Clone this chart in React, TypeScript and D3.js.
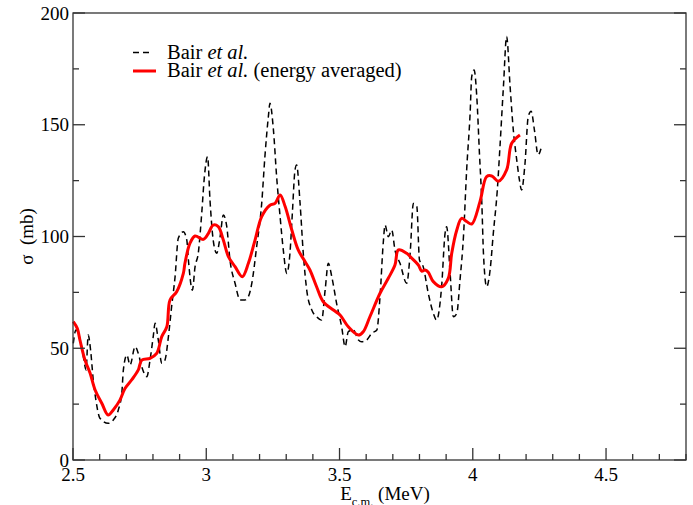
import React from "react";
import * as d3 from "d3";

const W = 693;
const H = 505;

// Bair et al. (raw)
const rawE = [2.501,2.511,2.524,2.539,2.549,2.557,2.566,2.576,2.586,2.601,2.632,2.651,2.670,2.683,2.689,2.702,2.714,2.733,2.745,2.758,2.777,2.789,2.801,2.808,2.820,2.833,2.845,2.858,2.870,2.883,2.895,2.914,2.927,2.933,2.948,2.958,2.970,2.983,2.993,3.005,3.014,3.026,3.039,3.052,3.064,3.077,3.089,3.108,3.127,3.145,3.158,3.171,3.189,3.208,3.220,3.233,3.239,3.252,3.264,3.277,3.289,3.302,3.314,3.323,3.333,3.339,3.352,3.364,3.377,3.396,3.414,3.433,3.446,3.458,3.471,3.489,3.508,3.521,3.533,3.552,3.571,3.583,3.602,3.621,3.640,3.652,3.664,3.671,3.683,3.696,3.708,3.727,3.752,3.765,3.777,3.790,3.800,3.814,3.833,3.852,3.864,3.883,3.896,3.902,3.915,3.927,3.940,3.952,3.965,3.977,3.990,3.996,4.005,4.015,4.025,4.034,4.040,4.052,4.065,4.077,4.092,4.102,4.115,4.127,4.140,4.152,4.165,4.175,4.183,4.196,4.208,4.219,4.232,4.245,4.258];
const rawSigma = [52.2,58.2,55.2,46.2,40.3,55.9,49.2,35.8,26.8,18.7,16.4,17.9,22.4,29.8,40.3,47,42.5,50.7,47.7,41.7,37.3,44.7,55.2,61.2,53.7,43.3,44.7,55.2,68.6,82,99.2,102.1,98.4,89.5,76,86.5,92.5,110.4,126.8,135.7,116.3,98.4,92.5,99.9,109.6,104.4,89.5,79.1,71.6,71.6,73.1,79.1,95.4,114.8,135.7,153.6,159.6,147.7,126.8,108.9,94,83.5,92.5,110.4,129.8,132,114.8,92.5,76,67.1,64.1,62.6,76,88,82,70.1,59.6,50.7,57.4,58.2,53.7,52.9,53.7,56.7,58.2,73.1,97,105.1,99.9,102.9,94,88,79.1,92.5,114.8,113.4,89.5,86.5,74.6,65.6,62.6,77.5,101.4,104.4,83.5,64.1,65.6,80.5,99.9,129.8,155.1,171.5,174.5,162.6,137.2,114.8,92.5,77.5,85,101.4,120.8,140.2,167.1,189.5,167.1,147.7,134.2,125.3,120.8,132.8,153.6,156,147,136.5,140.2];

// Bair et al. (energy averaged)
const avgE = [2.501,2.516,2.526,2.545,2.564,2.583,2.608,2.632,2.651,2.676,2.695,2.720,2.745,2.758,2.789,2.814,2.833,2.852,2.864,2.889,2.914,2.920,2.939,2.958,2.989,3.008,3.026,3.045,3.064,3.083,3.108,3.135,3.158,3.183,3.208,3.239,3.258,3.277,3.296,3.321,3.345,3.371,3.389,3.414,3.439,3.477,3.502,3.533,3.571,3.589,3.614,3.652,3.683,3.708,3.721,3.752,3.765,3.796,3.808,3.821,3.833,3.852,3.883,3.908,3.921,3.940,3.958,3.977,3.996,4.027,4.052,4.071,4.096,4.127,4.146,4.177];
const avgSigma = [61.9,58.9,53.7,44.7,38.9,31.3,25.4,20.1,22.4,26.8,32,35.8,40.3,44.7,45.5,47.7,55.2,59.6,71.6,75.3,83.5,88,97,100.2,98.7,101.4,105.1,104.4,98.4,91,86.5,82,88,98.4,108.9,114,114.8,118.6,113.4,102.9,94,88.7,85,77.5,70.8,67.1,64.9,59.6,55.9,57.4,64.1,74.6,81.3,87.2,94,92.5,91,87.2,84.5,85,84,79.8,77.5,81.3,92.5,102.9,108.1,106.7,105.6,115.6,126.8,127.1,124.7,129.8,141.7,145.4];

const xMajor = [2.5, 3, 3.5, 4, 4.5];
const xMajorLabels = ["2.5", "3", "3.5", "4", "4.5"];
const yMajor = [0, 50, 100, 150, 200];
const yMajorLabels = ["0", "50", "100", "150", "200"];

const left = 73;
const right = 686;
const top = 13;
const bottom = 460;

export default function App() {
  const x = d3.scaleLinear().domain([2.5, 4.8]).range([left, right]);
  const y = d3.scaleLinear().domain([0, 200]).range([bottom, top]);

  const rawPts: [number, number][] = rawE.map((e, i) => [e, rawSigma[i]]);
  const avgPts: [number, number][] = avgE.map((e, i) => [e, avgSigma[i]]);

  const lineRaw = d3
    .line<[number, number]>()
    .x((d) => x(d[0]))
    .y((d) => y(d[1]))
    .curve(d3.curveMonotoneX);
  const lineAvg = d3
    .line<[number, number]>()
    .x((d) => x(d[0]))
    .y((d) => y(d[1]))
    .curve(d3.curveCatmullRom.alpha(0.5));

  const xMinor = d3.range(2.5, 4.8001, 0.1).filter((v) => !xMajor.some((m) => Math.abs(m - v) < 1e-6));
  const yMinor = d3.range(0, 200.001, 25).filter((v) => !yMajor.some((m) => Math.abs(m - v) < 1e-6));

  const axisColor = "#333";
  const font = "Liberation Serif, Tinos, Times New Roman, Times, DejaVu Serif, serif";
  const ts = { fontFamily: font, fontSize: "19px", fill: "#000" } as React.CSSProperties;
  const ls = { fontFamily: font, fontSize: "20.5px", fill: "#000" } as React.CSSProperties;

  return (
    <svg
      width={W}
      height={H}
      style={{ position: "absolute", left: 0, top: 0, background: "#fff", fontFamily: font }}
    >
      <rect x={0} y={0} width={W} height={H} fill="#fff" />
      {/* data */}
      <path d={lineRaw(rawPts) || ""} fill="none" stroke="#000" strokeWidth={1.5} strokeDasharray="6,4" />
      <path d={lineAvg(avgPts) || ""} fill="none" stroke="#ff0000" strokeWidth={3} strokeLinejoin="round" />

      {/* frame */}
      <rect x={left} y={top} width={right - left} height={bottom - top} fill="none" stroke={axisColor} strokeWidth={1.3} />

      {/* x ticks */}
      {xMajor.map((v) => (
        <line key={"xM" + v} x1={x(v)} x2={x(v)} y1={bottom} y2={bottom - 12} stroke={axisColor} strokeWidth={1.3} />
      ))}
      {xMinor.map((v) => (
        <line key={"xm" + v} x1={x(v)} x2={x(v)} y1={bottom} y2={bottom - 6} stroke={axisColor} strokeWidth={1.3} />
      ))}
      {xMajor.map((v, i) => (
        <text key={"xl" + v} x={x(v)} y={481} textAnchor="middle" style={ts}>
          {xMajorLabels[i]}
        </text>
      ))}

      {/* y ticks left and right */}
      {yMajor.map((v) => (
        <g key={"yM" + v}>
          <line x1={left} x2={left + 12} y1={y(v)} y2={y(v)} stroke={axisColor} strokeWidth={1.3} />
          <line x1={right} x2={right - 12} y1={y(v)} y2={y(v)} stroke={axisColor} strokeWidth={1.3} />
        </g>
      ))}
      {yMinor.map((v) => (
        <g key={"ym" + v}>
          <line x1={left} x2={left + 6} y1={y(v)} y2={y(v)} stroke={axisColor} strokeWidth={1.3} />
          <line x1={right} x2={right - 6} y1={y(v)} y2={y(v)} stroke={axisColor} strokeWidth={1.3} />
        </g>
      ))}
      {yMajor.map((v, i) => (
        <text key={"yl" + v} x={left - 4} y={y(v) + 6.5} textAnchor="end" style={ts}>
          {yMajorLabels[i]}
        </text>
      ))}

      {/* axis titles */}
      <text x={385} y={500} textAnchor="middle" style={ts}>
        E<tspan style={{ fontSize: "12.5px" }} dy={6}>c.m.</tspan>
        <tspan dy={-6}>{"\u00a0(MeV)"}</tspan>
      </text>
      <text transform={`translate(33, ${y(100)}) rotate(-90)`} textAnchor="middle" style={ts}>
        {"σ\u00a0\u00a0(mb)"}
      </text>

      {/* legend */}
      <line x1={133} x2={149} y1={52.5} y2={52.5} stroke="#000" strokeWidth={1.5} strokeDasharray="6,4" />
      <text x={167} y={58.5} style={ls}>
        Bair <tspan style={{ fontStyle: "italic" }}>et al.</tspan>
      </text>
      <line x1={133} x2={156} y1={71} y2={71} stroke="#ff0000" strokeWidth={3} />
      <text x={167} y={77} style={ls}>
        Bair <tspan style={{ fontStyle: "italic" }}>et al.</tspan> (energy averaged)
      </text>
    </svg>
  );
}
